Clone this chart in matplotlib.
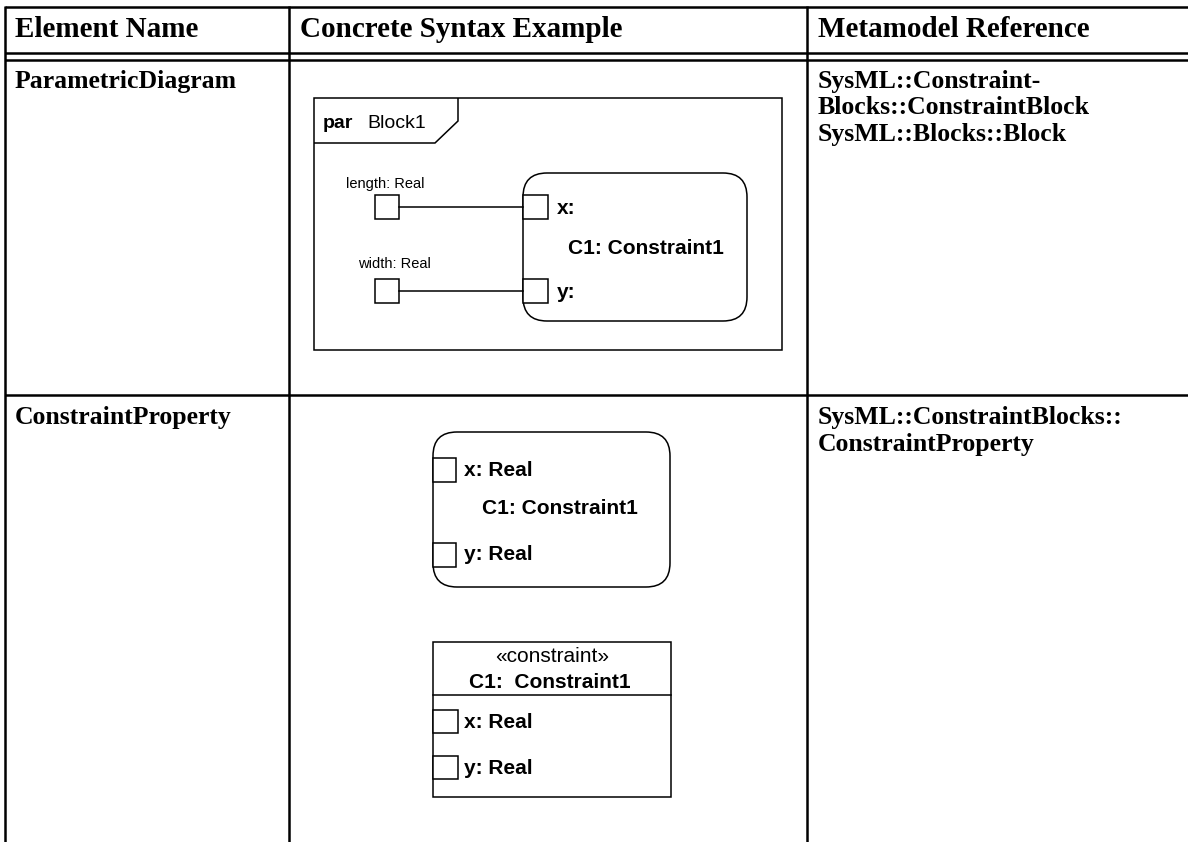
import matplotlib
matplotlib.use("Agg")
import matplotlib.pyplot as plt
from matplotlib.patches import Rectangle, FancyBboxPatch, Polygon

# ---- content ----
headers = ["Element Name", "Concrete Syntax Example", "Metamodel Reference"]
element_names = ["ParametricDiagram", "ConstraintProperty"]
metamodel_refs = [
    ["SysML::Constraint-", "Blocks::ConstraintBlock", "SysML::Blocks::Block"],
    ["SysML::ConstraintBlocks::", "ConstraintProperty"],
]
frame_kind = "par"
frame_name = "Block1"
param_labels = ["length: Real", "width: Real"]
port_labels_1 = ["x:", "y:"]
constraint_name = "C1: Constraint1"
port_labels_2 = ["x: Real", "y: Real"]
stereotype = "\u00abconstraint\u00bb"
constraint_name_3 = "C1:  Constraint1"

W, H = 1188, 842
fig = plt.figure(figsize=(W / 100, H / 100), dpi=100)
ax = fig.add_axes([0, 0, 1, 1])
ax.set_xlim(0, W)
ax.set_ylim(H, 0)
ax.axis("off")

serif = "Liberation Serif"
sans = "Liberation Sans"
tlw = 1.8   # table line width
dlw = 1.1   # diagram line width

# ---- table grid ----
col_x = [5, 289, 807]
for y in (7, 53, 60, 395):
    ax.plot([5, W], [y, y], color="black", lw=tlw, solid_capstyle="butt")
for x in col_x:
    ax.plot([x, x], [6, H], color="black", lw=tlw, solid_capstyle="butt")

# headers
hx = [15, 300, 818]
for x, t in zip(hx, headers):
    ax.text(x, 37, t, fontfamily=serif, fontweight="bold", fontsize=21,
            ha="left", va="baseline")

# element names
row_base = [88, 424]
for y, t in zip(row_base, element_names):
    ax.text(15, y, t, fontfamily=serif, fontweight="bold", fontsize=18.5,
            ha="left", va="baseline")

# metamodel refs
for y0, lines in zip(row_base, metamodel_refs):
    for i, t in enumerate(lines):
        ax.text(818, y0 + i * 26.5, t, fontfamily=serif, fontweight="bold",
                fontsize=18.5, ha="left", va="baseline")

# ---- diagram 1: parametric diagram ----
ax.add_patch(Rectangle((314, 98), 468, 252, fill=False, ec="black", lw=dlw))
ax.add_patch(Polygon([(314, 143), (435, 143), (458, 121), (458, 98)],
                     closed=False, fill=False, ec="black", lw=dlw))
ax.text(323, 128, frame_kind, fontfamily=sans, fontweight="bold", fontsize=14,
        ha="left", va="baseline")
ax.text(367, 128, frame_name, fontfamily=sans, fontsize=14,
        ha="left", va="baseline")

ax.add_patch(FancyBboxPatch((523, 173), 224, 148,
                            boxstyle="round,pad=0,rounding_size=24",
                            fill=False, ec="black", lw=dlw))
port_y = [195, 279]
label_y = [188, 268]
label_x = [385, 394]
for py, ly, lx, pl, lab in zip(port_y, label_y, label_x, param_labels,
                               port_labels_1):
    ax.add_patch(Rectangle((375, py), 24, 24, fill=False, ec="black", lw=dlw))
    ax.add_patch(Rectangle((523, py), 25, 24, fc="white",
                           ec="black", lw=dlw))
    ax.plot([399, 523], [py + 12, py + 12], color="black", lw=dlw)
    ax.text(lx, ly, pl, fontfamily=sans, fontsize=10.5, ha="center",
            va="baseline")
    ax.text(557, py + 13, lab, fontfamily=sans, fontweight="bold",
            fontsize=15, ha="left", va="center")
ax.text(568, 248, constraint_name, fontfamily=sans, fontweight="bold",
        fontsize=15, ha="left", va="center")

# ---- diagram 2: constraint property (rounded) ----
ax.add_patch(FancyBboxPatch((433, 432), 237, 155,
                            boxstyle="round,pad=0,rounding_size=24",
                            fill=False, ec="black", lw=dlw))
for py, lab in zip([458, 543], port_labels_2):
    ax.add_patch(Rectangle((433, py), 23, 24, fc="white", ec="black", lw=dlw))
    ax.text(464, py + 12, lab, fontfamily=sans, fontweight="bold",
            fontsize=15, ha="left", va="center")
ax.text(482, 509, constraint_name, fontfamily=sans, fontweight="bold",
        fontsize=15, ha="left", va="center")

# ---- diagram 3: constraint property (block) ----
ax.add_patch(Rectangle((433, 642), 238, 155, fill=False, ec="black", lw=dlw))
ax.plot([433, 671], [695, 695], color="black", lw=dlw)
ax.text(552, 657, stereotype, fontfamily=sans, fontsize=15,
        ha="center", va="center")
ax.text(550, 682, constraint_name_3, fontfamily=sans, fontweight="bold",
        fontsize=15, ha="center", va="center")
for py, lab in zip([710, 756], port_labels_2):
    ax.add_patch(Rectangle((433, py), 25, 23, fc="white", ec="black", lw=dlw))
    ax.text(464, py + 12, lab, fontfamily=sans, fontweight="bold",
            fontsize=15, ha="left", va="center")

fig.savefig("out.png", dpi=100, facecolor="white")
